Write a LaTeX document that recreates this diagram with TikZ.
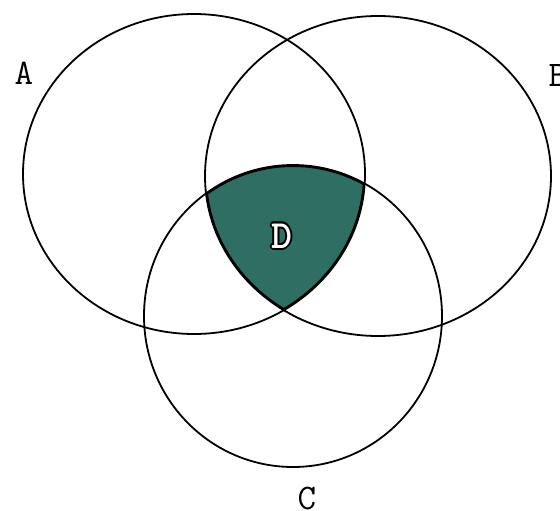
\documentclass[tikz,border=0pt]{standalone}
\usepackage{fontspec}
\usepackage[copies]{contour}
\definecolor{deepteal}{HTML}{2F6E63}
\usetikzlibrary{positioning}
\contourlength{1.6pt}

\begin{document}
\begin{tikzpicture}[
    x=1pt,y=-1pt,
    setline/.style={draw=black,line width=1.8pt},
    setlabel/.style={font=\ttfamily\fontsize{36}{36}\selectfont,text=black,inner sep=0pt},
    dlabel/.style={font=\ttfamily\bfseries\fontsize{40}{40}\selectfont,inner sep=0pt}
  ]
    \useasboundingbox (0,0) rectangle (560,511);
    % Shaded intersection of the three sets
    \begin{scope}
      \clip (194,174) ellipse [x radius=171pt, y radius=160pt];
      \clip (378,176) ellipse [x radius=173pt, y radius=160pt];
      \clip (293,316) ellipse [x radius=149pt, y radius=151pt];
      \fill[deepteal] (0,0) rectangle (560,511);
      \draw[line width=4pt] (194,174) ellipse [x radius=171pt, y radius=160pt];
      \draw[line width=4pt] (378,176) ellipse [x radius=173pt, y radius=160pt];
      \draw[line width=4pt] (293,316) ellipse [x radius=149pt, y radius=151pt];
    \end{scope}
    % Set outlines
    \draw[setline] (194,174) ellipse [x radius=171pt, y radius=160pt];
    \draw[setline] (378,176) ellipse [x radius=173pt, y radius=160pt];
    \draw[setline] (293,316) ellipse [x radius=149pt, y radius=151pt];
    % Labels
    \node[setlabel] (labA) at (24,73) {A};
    \node[setlabel] (labB) at (558,76) {B};
    \node[setlabel] (labC) at (307,498) {C};
    \node[dlabel] (labD) at (282,237) {\contour{black}{\textcolor{white}{D}}};
  \end{tikzpicture}
\end{document}
